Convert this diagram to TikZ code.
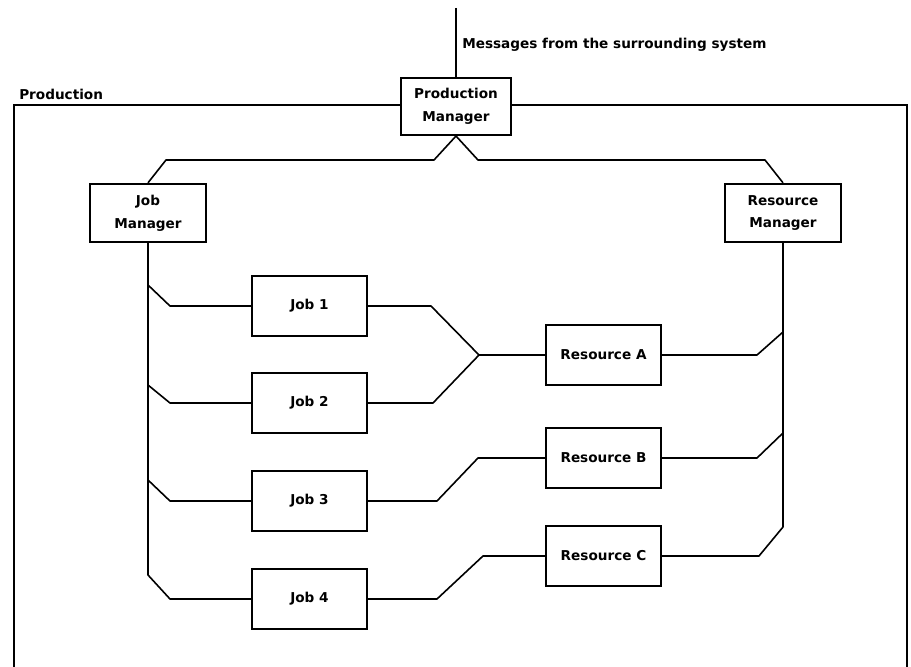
\documentclass[tikz,border=0pt]{standalone}
\usepackage{fontspec}
\setmainfont{DejaVu Sans}
\begin{document}
\begin{tikzpicture}[x=0.75pt,y=-0.75pt,
  box/.style={draw,line width=1.3pt,minimum width=86pt,minimum height=45pt,inner sep=0pt,align=center,font=\fontsize{10.2}{17}\selectfont\bfseries},
  mgr/.style={box,minimum width=87pt,minimum height=44pt},
  conn/.style={line width=1.2pt,line join=round},
  lbl/.style={font=\fontsize{10.2}{12}\selectfont\bfseries,inner sep=0pt}]
\useasboundingbox (0,0) rectangle (911,667);
% nodes
\node[mgr,minimum width=82pt,minimum height=43pt] (pm) at (456,106.5) {Production\\Manager};
\node[mgr] (jm) at (148,213) {Job\\Manager};
\node[mgr] (rm) at (783,213) {Resource\\Manager};
\node[box] (j1) at (309.5,306) {Job 1};
\node[box] (j2) at (309.5,403) {Job 2};
\node[box] (j3) at (309.5,501) {Job 3};
\node[box] (j4) at (309.5,599) {Job 4};
\node[box] (ra) at (603.5,355) {Resource A};
\node[box] (rb) at (603.5,458) {Resource B};
\node[box] (rc) at (603.5,556) {Resource C};
\node[lbl,anchor=west] (msg) at (462,45) {Messages from the surrounding system};
\node[lbl,anchor=south west] (prod) at (19,100) {Production};
% frame
\coordinate (fl) at (14,105);
\coordinate (fr) at (907,105);
\coordinate (flb) at (14,667);
\coordinate (frb) at (907,667);
\coordinate (top) at (456,8);
\draw[line width=1.7pt] (pm.west |- fl) -- (fl) -- (flb);
\draw[line width=1.7pt] (pm.east |- fr) -- (fr) -- (frb);
\draw[conn] (top) -- (pm.north);
% manager links
\draw[conn] (pm.south) -- (434,160) -- (166,160) -- (jm.north);
\draw[conn] (pm.south) -- (478,160) -- (765,160) -- (rm.north);
% job manager bus
\draw[conn] (jm.south) -- (148,575) -- (170,599) -- (j4.west);
\draw[conn] (148,285) -- (170,306) -- (j1.west);
\draw[conn] (148,385) -- (170,403) -- (j2.west);
\draw[conn] (148,480) -- (170,501) -- (j3.west);
% resource manager bus
\draw[conn] (rm.south) -- (783,527) -- (759,556) -- (rc.east);
\draw[conn] (783,332) -- (757,355) -- (ra.east);
\draw[conn] (783,433) -- (757,458) -- (rb.east);
% job to resource
\draw[conn] (j1.east) -- (431,306) -- (479,355) -- (ra.west);
\draw[conn] (j2.east) -- (433,403) -- (479,355);
\draw[conn] (j3.east) -- (437,501) -- (478,458) -- (rb.west);
\draw[conn] (j4.east) -- (437,599) -- (483,556) -- (rc.west);
\end{tikzpicture}
\end{document}
